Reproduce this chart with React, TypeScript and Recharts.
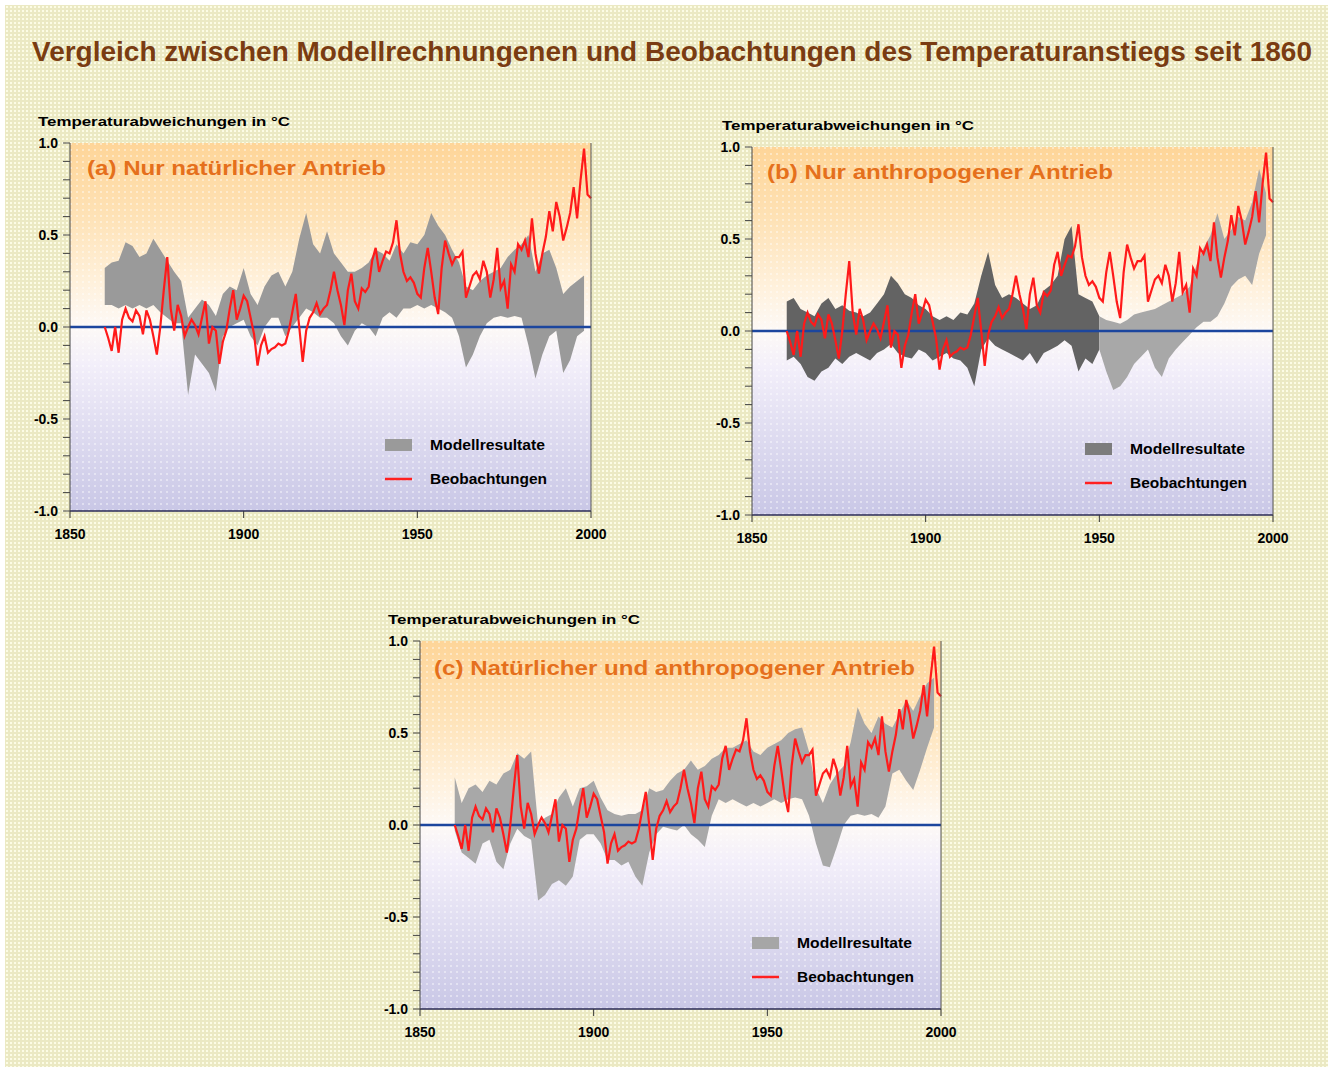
import React from "react";
import {
  ComposedChart,
  Area,
  Line,
  XAxis,
  YAxis,
  ReferenceLine,
  ReferenceArea,
  CartesianGrid,
  Legend,
} from "recharts";

const FONT = "'Liberation Sans', Arial, sans-serif";
const FIRST_YEAR = 1860;

// observed temperature deviations (°C), one value per year 1860–2000
const observed = [
  0.0, -0.06, -0.13, 0.0, -0.14, 0.04, 0.1, 0.05, 0.03, 0.09,
  0.06, -0.04, 0.09, 0.04, -0.05, -0.15, 0.0, 0.2, 0.38, 0.1,
  -0.02, 0.12, 0.06, -0.05, 0.0, 0.04, 0.01, -0.04, 0.05, 0.14,
  -0.09, 0.0, -0.02, -0.2, -0.08, -0.02, 0.1, 0.2, 0.04, 0.1,
  0.17, 0.14, 0.05, -0.04, -0.21, -0.1, -0.05, -0.14, -0.12, -0.11,
  -0.09, -0.1, -0.09, -0.02, 0.08, 0.18, 0.0, -0.19, -0.02, 0.05,
  0.08, 0.13, 0.07, 0.1, 0.12, 0.2, 0.3, 0.2, 0.12, 0.01,
  0.2, 0.29, 0.14, 0.1, 0.21, 0.19, 0.22, 0.36, 0.43, 0.3,
  0.36, 0.41, 0.4, 0.46, 0.58, 0.4, 0.3, 0.25, 0.27, 0.24,
  0.18, 0.16, 0.32, 0.43, 0.3, 0.16, 0.07, 0.32, 0.47, 0.4,
  0.34, 0.38, 0.38, 0.41, 0.16, 0.22, 0.28, 0.3, 0.26, 0.36,
  0.3, 0.16, 0.26, 0.43, 0.21, 0.25, 0.1, 0.34, 0.3, 0.45,
  0.42, 0.47, 0.38, 0.59, 0.4, 0.29, 0.4, 0.49, 0.63, 0.52,
  0.68, 0.6, 0.47, 0.54, 0.62, 0.76, 0.59, 0.8, 0.97, 0.72,
  0.7,
];

// model ranges, every second year (a) and (c): 1860–1998
const naturalLow = [
  0.12, 0.12, 0.1, 0.12, 0.1, 0.12, 0.1, 0.12, 0.08, 0.05,
  0.02, 0.02, -0.37, -0.15, -0.2, -0.25, -0.35, -0.05, 0.0, 0.02,
  0.04, -0.05, -0.1, 0.0, 0.05, 0.05, -0.05, 0.0, 0.05, 0.1,
  0.08, 0.05, 0.05, 0.02, -0.05, -0.1, -0.02, 0.02, 0.0, -0.05,
  0.05, 0.08, 0.05, 0.1, 0.1, 0.12, 0.1, 0.12, 0.1, 0.08,
  0.05, -0.05, -0.22, -0.15, -0.05, 0.02, 0.05, 0.06, 0.05, 0.06,
  0.05, -0.1, -0.28, -0.15, -0.05, -0.02, -0.25, -0.18, -0.05, -0.02,
];
const naturalHigh = [
  0.32, 0.35, 0.36, 0.46, 0.44, 0.38, 0.4, 0.48, 0.42, 0.36,
  0.3, 0.25, 0.05, 0.1, 0.15, 0.12, 0.06, 0.18, 0.22, 0.2,
  0.32, 0.18, 0.12, 0.22, 0.28, 0.3, 0.22, 0.3, 0.48, 0.62,
  0.45, 0.4, 0.52, 0.4, 0.35, 0.3, 0.3, 0.32, 0.35, 0.42,
  0.4, 0.36, 0.45, 0.4, 0.46, 0.45, 0.5, 0.62, 0.55, 0.5,
  0.42, 0.35, 0.22, 0.2, 0.25, 0.28, 0.3, 0.32, 0.38, 0.42,
  0.45, 0.5, 0.3, 0.4, 0.42, 0.32, 0.18, 0.22, 0.25, 0.28,
];

// (b) dark part 1860–1950, light part 1950–1998, every second year
const anthroEarlyLow = [
  -0.16, -0.14, -0.18, -0.25, -0.27, -0.22, -0.2, -0.15, -0.18, -0.14,
  -0.12, -0.14, -0.16, -0.12, -0.1, -0.07, -0.12, -0.14, -0.15, -0.1,
  -0.12, -0.16, -0.14, -0.12, -0.15, -0.16, -0.2, -0.3, -0.1, -0.04,
  -0.08, -0.1, -0.12, -0.14, -0.16, -0.12, -0.18, -0.12, -0.1, -0.08,
  -0.05, -0.08, -0.22, -0.15, -0.18, -0.1,
];
const anthroEarlyHigh = [
  0.16, 0.18, 0.12, 0.1, 0.08, 0.15, 0.18, 0.12, 0.14, 0.11,
  0.1, 0.08, 0.1, 0.15, 0.2, 0.3, 0.26, 0.2, 0.18, 0.14,
  0.12, 0.08, 0.06, 0.08, 0.06, 0.1, 0.09, 0.15, 0.3, 0.43,
  0.25, 0.18, 0.2, 0.18, 0.15, 0.12, 0.14, 0.22, 0.25, 0.3,
  0.5, 0.57, 0.2, 0.18, 0.16, 0.08,
];
const anthroLateLow = [
  -0.1, -0.22, -0.32, -0.3, -0.25, -0.18, -0.14, -0.1, -0.2, -0.25,
  -0.15, -0.1, -0.06, -0.02, 0.02, 0.05, 0.05, 0.08, 0.15, 0.24,
  0.28, 0.3, 0.25, 0.42, 0.52,
];
const anthroLateHigh = [
  0.08, 0.06, 0.05, 0.04, 0.06, 0.09, 0.1, 0.11, 0.12, 0.14,
  0.16, 0.18, 0.2, 0.24, 0.36, 0.45, 0.52, 0.64, 0.5, 0.55,
  0.62, 0.6, 0.7, 0.88, 0.75,
];

const combinedLow = [
  -0.03, -0.15, -0.18, -0.21, -0.1, -0.08, -0.2, -0.24, -0.1, -0.02,
  -0.06, -0.08, -0.41, -0.38, -0.32, -0.3, -0.33, -0.28, -0.08, -0.05,
  -0.05, -0.1, -0.19, -0.19, -0.22, -0.2, -0.28, -0.33, -0.15, -0.05,
  -0.01, -0.02, -0.03, 0.0, -0.05, -0.08, -0.12, 0.05, 0.14, 0.12,
  0.14, 0.12, 0.1, 0.12, 0.1, 0.12, 0.14, 0.12, 0.14, 0.15,
  0.14, 0.05, -0.1, -0.22, -0.23, -0.12, 0.0, 0.05, 0.06, 0.05,
  0.06, 0.04, 0.1, 0.28, 0.3, 0.24, 0.19, 0.3, 0.42, 0.53,
];
const combinedHigh = [
  0.26, 0.12, 0.2, 0.22, 0.18, 0.24, 0.22, 0.28, 0.3, 0.39,
  0.36, 0.4, 0.0, 0.04, 0.06, 0.15, 0.2, 0.1, 0.2, 0.21,
  0.24, 0.15, 0.08, 0.06, 0.05, 0.06, 0.06, 0.08, 0.2, 0.18,
  0.19, 0.24, 0.28, 0.3, 0.35, 0.3, 0.32, 0.36, 0.38, 0.42,
  0.42, 0.44, 0.46, 0.4, 0.38, 0.42, 0.44, 0.46, 0.5, 0.52,
  0.53, 0.4, 0.2, 0.12, 0.22, 0.28, 0.32, 0.45, 0.64, 0.55,
  0.5, 0.59, 0.55, 0.53, 0.6, 0.68, 0.62, 0.7, 0.77, 0.8,
];

const xTicks = [1850, 1900, 1950, 2000];
const yTicks = [
  -1, -0.9, -0.8, -0.7, -0.6, -0.5, -0.4, -0.3, -0.2, -0.1, 0,
  0.1, 0.2, 0.3, 0.4, 0.5, 0.6, 0.7, 0.8, 0.9, 1,
];

type Band = { key: string; start: number; low: number[]; high: number[]; color: string };

const buildRows = (bands: Band[]) =>
  observed.map((v, i) => {
    const year = FIRST_YEAR + i;
    const row: Record<string, any> = { year, obs: v };
    bands.forEach((b) => {
      const k = (year - b.start) / 2;
      if (Number.isInteger(k) && k >= 0 && k < b.low.length) row[b.key] = [b.low[k], b.high[k]];
    });
    return row;
  });

const yLabel = (v: number) =>
  Math.abs(v * 2 - Math.round(v * 2)) < 1e-6 ? v.toFixed(1) : "";

const tickFont = { fill: "#000", fontSize: 14, fontWeight: 700, fontFamily: FONT };

const PW = 521;
const PH = 368;

const LegendBox = ({ swatch }: { swatch: string }) => (
  <svg width={200} height={64} style={{ display: "block", overflow: "visible" }}>
    <rect x={0} y={8} width={27} height={12} fill={swatch} />
    <text x={45} y={19} fontSize={14} fontWeight={700} fontFamily={FONT} textLength={115} lengthAdjust="spacingAndGlyphs">
      Modellresultate
    </text>
    <line x1={0} x2={27} y1={48} y2={48} stroke="#ff2020" strokeWidth={2.5} />
    <text x={45} y={53} fontSize={14} fontWeight={700} fontFamily={FONT} textLength={117} lengthAdjust="spacingAndGlyphs">
      Beobachtungen
    </text>
  </svg>
);

type PanelProps = {
  left: number;
  top: number;
  bands: Band[];
  legendX: number;
  swatch: string;
};

const Panel = ({ left, top, bands, legendX, swatch }: PanelProps) => {
  const rows = buildRows(bands);
  return (
    <div style={{ position: "absolute", left: left - 50, top: top - 20 }}>
      <ComposedChart width={PW + 100} height={PH + 60} data={rows} margin={{ top: 20, right: 10, bottom: 10, left: 10 }}>
        <CartesianGrid horizontal={false} vertical={false} fill="url(#plotBg)" stroke="none" />
        <XAxis
          dataKey="year"
          type="number"
          domain={[1850, 2000]}
          ticks={xTicks}
          interval={0}
          height={30}
          tickSize={7}
          tickMargin={11}
          axisLine={{ stroke: "#2a2a55", strokeWidth: 1.5 }}
          tickLine={{ stroke: "#333" }}
          tick={tickFont}
        />
        <YAxis
          domain={[-1, 1]}
          ticks={yTicks}
          interval={0}
          width={40}
          tickSize={7}
          tickMargin={5}
          tickFormatter={yLabel}
          axisLine={{ stroke: "#444" }}
          tickLine={{ stroke: "#444" }}
          tick={tickFont}
        />
        <YAxis
          yAxisId="r"
          orientation="right"
          domain={[-1, 1]}
          ticks={yTicks}
          interval={0}
          width={40}
          tickSize={8}
          tickMargin={12}
          tickFormatter={yLabel}
          axisLine={{ stroke: "#555" }}
          tickLine={{ stroke: "#555" }}
          tick={tickFont}
        />
        <ReferenceArea x1={1850} x2={2000} y1={-1} y2={1} fill="url(#dots)" fillOpacity={1} stroke="none" />
        {bands.map((b) => (
          <Area
            key={b.key}
            dataKey={b.key}
            type="linear"
            stroke="none"
            fill={b.color}
            fillOpacity={1}
            connectNulls
            isAnimationActive={false}
          />
        ))}
        <ReferenceLine y={0} stroke="#1c469e" strokeWidth={2.5} />
        <Line
          dataKey="obs"
          type="linear"
          stroke="#ff1a1a"
          strokeWidth={2.2}
          dot={false}
          isAnimationActive={false}
        />
        <Legend
          layout="vertical"
          align="center"
          verticalAlign="middle"
          wrapperStyle={{ left: legendX + 50, top: 20 + 288, width: 200, height: 64 }}
          content={() => <LegendBox swatch={swatch} />}
        />
      </ComposedChart>
    </div>
  );
};

const labelText = (x: number, y: number, key: string) => (
  <text key={key} x={x} y={y} fontSize={13} fontWeight={700} fontFamily={FONT} fill="#000" textLength={252} lengthAdjust="spacingAndGlyphs">
    Temperaturabweichungen in °C
  </text>
);

const panelTitle = (x: number, y: number, w: number, t: string) => (
  <text x={x} y={y} fontSize={21} fontWeight={700} fontFamily={FONT} fill="#e5701c" textLength={w} lengthAdjust="spacingAndGlyphs">
    {t}
  </text>
);

const App = () => (
  <div style={{ position: "absolute", left: 0, top: 0, width: 1333, height: 1072, background: "#fff" }}>
    <svg width={0} height={0} style={{ position: "absolute" }}>
      <defs>
        <linearGradient id="plotBg" x1="0" y1="0" x2="0" y2="1">
          <stop offset="0%" stopColor="#fed598" />
          <stop offset="20%" stopColor="#fee2b6" />
          <stop offset="38%" stopColor="#fff1dc" />
          <stop offset="50%" stopColor="#fdf9f6" />
          <stop offset="60%" stopColor="#f3effa" />
          <stop offset="75%" stopColor="#e2dff2" />
          <stop offset="100%" stopColor="#c9c7e6" />
        </linearGradient>
        <pattern id="dots" width="6" height="6" patternUnits="userSpaceOnUse">
          <circle cx="3" cy="3" r="1" fill="#ffffff" fillOpacity="0.55" />
        </pattern>
      </defs>
    </svg>
    <div
      style={{
        position: "absolute",
        left: 5,
        top: 5,
        width: 1323,
        height: 1062,
        backgroundColor: "#ebe9c3",
        backgroundImage: "radial-gradient(circle, rgba(255,255,235,0.85) 0.9px, transparent 1.4px)",
        backgroundSize: "4px 4px",
      }}
    />
    <Panel
      left={70}
      top={143}
      legendX={315}
      swatch="#9a9a9a"
      bands={[{ key: "nat", start: 1860, low: naturalLow, high: naturalHigh, color: "#9a9a9a" }]}
    />
    <Panel
      left={752}
      top={147}
      legendX={333}
      swatch="#7c7c7c"
      bands={[
        { key: "early", start: 1860, low: anthroEarlyLow, high: anthroEarlyHigh, color: "#636363" },
        { key: "late", start: 1950, low: anthroLateLow, high: anthroLateHigh, color: "#a8a8a8" },
      ]}
    />
    <Panel
      left={420}
      top={641}
      legendX={332}
      swatch="#a6a6a6"
      bands={[{ key: "both", start: 1860, low: combinedLow, high: combinedHigh, color: "#a8a8a8" }]}
    />
    <svg width={1333} height={1072} style={{ position: "absolute", left: 0, top: 0, pointerEvents: "none" }}>
      <text x={32} y={61} fontSize={27} fontWeight={700} fontFamily={FONT} fill="#7a3c12" textLength={1280} lengthAdjust="spacingAndGlyphs">
        Vergleich zwischen Modellrechnungenen und Beobachtungen des Temperaturanstiegs seit 1860
      </text>
      {labelText(38, 126, "a")}
      {labelText(722, 130, "b")}
      {labelText(388, 624, "c")}
      {panelTitle(87, 175, 299, "(a) Nur natürlicher Antrieb")}
      {panelTitle(767, 179, 346, "(b) Nur anthropogener Antrieb")}
      {panelTitle(434, 675, 481, "(c) Natürlicher und anthropogener Antrieb")}
    </svg>
  </div>
);

export default App;
